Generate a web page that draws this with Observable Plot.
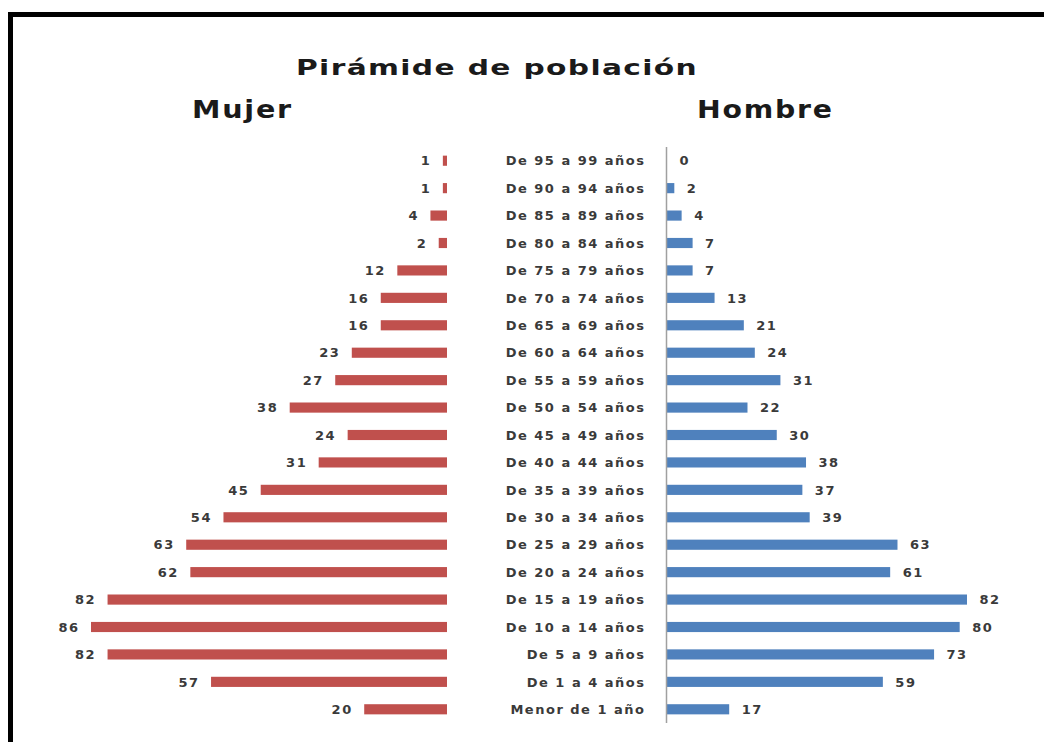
<!DOCTYPE html>
<html>
<head>
<meta charset="utf-8">
<script src="https://cdn.jsdelivr.net/npm/d3@7"></script>
<script src="https://cdn.jsdelivr.net/npm/@observablehq/plot@0.6"></script>
<style>
  html, body { margin: 0; padding: 0; background: #fff; overflow: hidden; }
  #wrap { position: relative; width: 1044px; height: 742px; overflow: hidden; background: #fff; }
  #frame { position: absolute; left: 8px; top: 12px; width: 1100px; height: 800px; border-left: 5px solid #000; border-top: 5px solid #000; }
  .ttl { position: absolute; font-family: "DejaVu Sans", sans-serif; font-weight: bold; color: #1a1a1a; white-space: nowrap; transform-origin: 0 0; }
  #title { left: 296px; top: 55px; font-size: 22px; letter-spacing: 1px; transform: scaleX(1.35); }
  #mujer { left: 192px; top: 96px; font-size: 24px; letter-spacing: 1.5px; transform: scaleX(1.19); }
  #hombre { left: 697px; top: 96px; font-size: 24px; letter-spacing: 1.5px; transform: scaleX(1.18); }
  .plot { position: absolute; left: 0; top: 0; }
</style>
</head>
<body>
<div id="wrap">
  <div id="frame"></div>
  <div class="ttl" id="title">Pirámide de población</div>
  <div class="ttl" id="mujer">Mujer</div>
  <div class="ttl" id="hombre">Hombre</div>
  <div class="plot" id="left"></div>
  <div class="plot" id="right"></div>
</div>
<script>
const categories = [
  "De 95 a 99 años", "De 90 a 94 años", "De 85 a 89 años", "De 80 a 84 años",
  "De 75 a 79 años", "De 70 a 74 años", "De 65 a 69 años", "De 60 a 64 años",
  "De 55 a 59 años", "De 50 a 54 años", "De 45 a 49 años", "De 40 a 44 años",
  "De 35 a 39 años", "De 30 a 34 años", "De 25 a 29 años", "De 20 a 24 años",
  "De 15 a 19 años", "De 10 a 14 años", "De 5 a 9 años", "De 1 a 4 años",
  "Menor de 1 año"
];
const mujer  = [1, 1, 4, 2, 12, 16, 16, 23, 27, 38, 24, 31, 45, 54, 63, 62, 82, 86, 82, 57, 20];
const hombre = [0, 2, 4, 7, 7, 13, 21, 24, 31, 22, 30, 38, 37, 39, 63, 61, 82, 80, 73, 59, 17];

const rows = categories.map((c, i) => ({cat: c, mujer: mujer[i], hombre: hombre[i]}));

const W = 1044, H = 742;
const common = {
  width: W, height: H,
  marginTop: 147, marginBottom: 19,
  style: {background: "transparent", overflow: "visible"},
  y: {domain: categories, paddingInner: 0.63, paddingOuter: 0.315, round: false, axis: null},
};
const fontStyle = {fontSize: 13, fontWeight: "bold", fill: "#3a3a3a", fontFamily: "DejaVu Sans, sans-serif"};

const left = Plot.plot({
  ...common,
  marginLeft: 91, marginRight: W - 447,
  x: {domain: [0, 86], reverse: true, axis: null},
  marks: [
    Plot.barX(rows, {x: "mujer", y: "cat", fill: "#C0504D"}),
    Plot.text(rows, {x: "mujer", y: "cat", text: d => String(d.mujer), textAnchor: "end", dx: -12, ...fontStyle})
  ]
});

const right = Plot.plot({
  ...common,
  marginLeft: 667, marginRight: W - 967,
  x: {domain: [0, 82], axis: null},
  marks: [
    Plot.barX(rows, {x: "hombre", y: "cat", fill: "#4F81BD"}),
    Plot.ruleX([0], {stroke: "#a0a0a0", strokeWidth: 1.5, dx: -1}),
    Plot.text(rows, {x: "hombre", y: "cat", text: d => String(d.hombre), textAnchor: "start", dx: 12, ...fontStyle}),
    Plot.text(rows, {x: 0, y: "cat", text: "cat", textAnchor: "end", dx: -22, ...fontStyle})
  ]
});

document.getElementById("left").appendChild(left);
document.getElementById("right").appendChild(right);
document.querySelectorAll("#right svg text, #left svg text").forEach(t => t.style.letterSpacing = "1.5px");
</script>
</body>
</html>
